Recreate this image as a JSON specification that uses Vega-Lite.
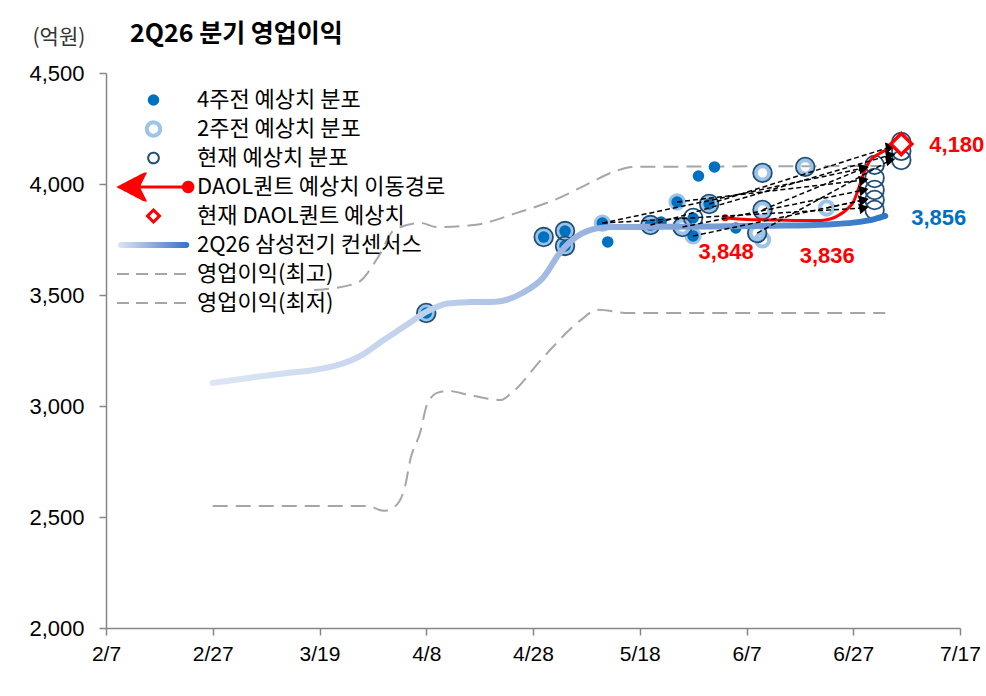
{
  "$schema": "https://vega.github.io/schema/vega-lite/v6.json",
  "width": 854,
  "height": 555,
  "autosize": {"type": "none"},
  "padding": {"left": 106, "top": 73, "right": 26, "bottom": 68},
  "background": "white",
  "title": {
    "text": "2Q26 분기 영업이익",
    "anchor": "start",
    "frame": "group",
    "dx": 24,
    "offset": -21,
    "font": "Noto Sans CJK KR",
    "fontSize": 25,
    "fontWeight": "bold",
    "color": "#000000"
  },
  "config": {
    "view": {"stroke": null}
  },
  "datasets": {
    "lines": [
      {"series": "영업이익(최고)", "date": "2026-03-18", "value": 3522},
      {"series": "영업이익(최고)", "date": "2026-03-26", "value": 3554},
      {"series": "영업이익(최고)", "date": "2026-03-30", "value": 3671},
      {"series": "영업이익(최고)", "date": "2026-04-02", "value": 3793},
      {"series": "영업이익(최고)", "date": "2026-04-07", "value": 3824},
      {"series": "영업이익(최고)", "date": "2026-04-10", "value": 3806},
      {"series": "영업이익(최고)", "date": "2026-04-17", "value": 3815},
      {"series": "영업이익(최고)", "date": "2026-04-25", "value": 3870},
      {"series": "영업이익(최고)", "date": "2026-05-02", "value": 3928},
      {"series": "영업이익(최고)", "date": "2026-05-09", "value": 4009},
      {"series": "영업이익(최고)", "date": "2026-05-13", "value": 4054},
      {"series": "영업이익(최고)", "date": "2026-05-17", "value": 4077},
      {"series": "영업이익(최고)", "date": "2026-07-03", "value": 4081},
      {"series": "영업이익(최저)", "date": "2026-02-27", "value": 2550},
      {"series": "영업이익(최저)", "date": "2026-03-28", "value": 2550},
      {"series": "영업이익(최저)", "date": "2026-03-31", "value": 2528},
      {"series": "영업이익(최저)", "date": "2026-04-02", "value": 2545},
      {"series": "영업이익(최저)", "date": "2026-04-04", "value": 2635},
      {"series": "영업이익(최저)", "date": "2026-04-05", "value": 2757},
      {"series": "영업이익(최저)", "date": "2026-04-07", "value": 2892},
      {"series": "영업이익(최저)", "date": "2026-04-08", "value": 2996},
      {"series": "영업이익(최저)", "date": "2026-04-10", "value": 3059},
      {"series": "영업이익(최저)", "date": "2026-04-12", "value": 3068},
      {"series": "영업이익(최저)", "date": "2026-04-16", "value": 3050},
      {"series": "영업이익(최저)", "date": "2026-04-22", "value": 3027},
      {"series": "영업이익(최저)", "date": "2026-04-24", "value": 3059},
      {"series": "영업이익(최저)", "date": "2026-04-30", "value": 3221},
      {"series": "영업이익(최저)", "date": "2026-05-07", "value": 3388},
      {"series": "영업이익(최저)", "date": "2026-05-10", "value": 3433},
      {"series": "영업이익(최저)", "date": "2026-05-16", "value": 3419},
      {"series": "영업이익(최저)", "date": "2026-07-03", "value": 3419},
      {"series": "2Q26 삼성전기 컨센서스", "date": "2026-02-27", "value": 3104},
      {"series": "2Q26 삼성전기 컨센서스", "date": "2026-03-07", "value": 3131},
      {"series": "2Q26 삼성전기 컨센서스", "date": "2026-03-13", "value": 3149},
      {"series": "2Q26 삼성전기 컨센서스", "date": "2026-03-18", "value": 3162},
      {"series": "2Q26 삼성전기 컨센서스", "date": "2026-03-27", "value": 3230},
      {"series": "2Q26 삼성전기 컨센서스", "date": "2026-03-31", "value": 3297},
      {"series": "2Q26 삼성전기 컨센서스", "date": "2026-04-04", "value": 3360},
      {"series": "2Q26 삼성전기 컨센서스", "date": "2026-04-08", "value": 3424},
      {"series": "2Q26 삼성전기 컨센서스", "date": "2026-04-12", "value": 3462},
      {"series": "2Q26 삼성전기 컨센서스", "date": "2026-04-16", "value": 3468},
      {"series": "2Q26 삼성전기 컨센서스", "date": "2026-04-21", "value": 3470},
      {"series": "2Q26 삼성전기 컨센서스", "date": "2026-04-26", "value": 3509},
      {"series": "2Q26 삼성전기 컨센서스", "date": "2026-04-30", "value": 3581},
      {"series": "2Q26 삼성전기 컨센서스", "date": "2026-05-03", "value": 3689},
      {"series": "2Q26 삼성전기 컨센서스", "date": "2026-05-07", "value": 3775},
      {"series": "2Q26 삼성전기 컨센서스", "date": "2026-05-10", "value": 3800},
      {"series": "2Q26 삼성전기 컨센서스", "date": "2026-05-13", "value": 3806},
      {"series": "2Q26 삼성전기 컨센서스", "date": "2026-05-20", "value": 3807},
      {"series": "2Q26 삼성전기 컨센서스", "date": "2026-06-01", "value": 3809},
      {"series": "2Q26 삼성전기 컨센서스", "date": "2026-06-12", "value": 3812},
      {"series": "2Q26 삼성전기 컨센서스", "date": "2026-06-22", "value": 3818},
      {"series": "2Q26 삼성전기 컨센서스", "date": "2026-06-27", "value": 3826},
      {"series": "2Q26 삼성전기 컨센서스", "date": "2026-07-01", "value": 3842},
      {"series": "2Q26 삼성전기 컨센서스", "date": "2026-07-03", "value": 3856},
      {"series": "DAOL퀀트 예상치 이동경로", "date": "2026-06-03", "value": 3848},
      {"series": "DAOL퀀트 예상치 이동경로", "date": "2026-06-07", "value": 3840},
      {"series": "DAOL퀀트 예상치 이동경로", "date": "2026-06-11", "value": 3838},
      {"series": "DAOL퀀트 예상치 이동경로", "date": "2026-06-16", "value": 3836},
      {"series": "DAOL퀀트 예상치 이동경로", "date": "2026-06-21", "value": 3836},
      {"series": "DAOL퀀트 예상치 이동경로", "date": "2026-06-24", "value": 3855},
      {"series": "DAOL퀀트 예상치 이동경로", "date": "2026-06-26", "value": 3890},
      {"series": "DAOL퀀트 예상치 이동경로", "date": "2026-06-27", "value": 3918},
      {"series": "DAOL퀀트 예상치 이동경로", "date": "2026-06-28", "value": 3980},
      {"series": "DAOL퀀트 예상치 이동경로", "date": "2026-06-29", "value": 4050},
      {"series": "DAOL퀀트 예상치 이동경로", "date": "2026-06-30", "value": 4100},
      {"series": "DAOL퀀트 예상치 이동경로", "date": "2026-07-02", "value": 4138},
      {"series": "DAOL퀀트 예상치 이동경로", "date": "2026-07-04", "value": 4162},
      {"series": "DAOL퀀트 예상치 이동경로", "date": "2026-07-06", "value": 4180}
    ],
    "points": [
      {"series": "4주전 예상치 분포", "date": "2026-04-08", "value": 3419},
      {"series": "4주전 예상치 분포", "date": "2026-04-30", "value": 3761},
      {"series": "4주전 예상치 분포", "date": "2026-05-04", "value": 3788},
      {"series": "4주전 예상치 분포", "date": "2026-05-04", "value": 3721},
      {"series": "4주전 예상치 분포", "date": "2026-05-11", "value": 3824},
      {"series": "4주전 예상치 분포", "date": "2026-05-12", "value": 3739},
      {"series": "4주전 예상치 분포", "date": "2026-05-20", "value": 3815},
      {"series": "4주전 예상치 분포", "date": "2026-05-22", "value": 3829},
      {"series": "4주전 예상치 분포", "date": "2026-05-25", "value": 3919},
      {"series": "4주전 예상치 분포", "date": "2026-05-28", "value": 3847},
      {"series": "4주전 예상치 분포", "date": "2026-05-28", "value": 3766},
      {"series": "4주전 예상치 분포", "date": "2026-05-31", "value": 3910},
      {"series": "4주전 예상치 분포", "date": "2026-05-29", "value": 4036},
      {"series": "4주전 예상치 분포", "date": "2026-06-01", "value": 4077},
      {"series": "4주전 예상치 분포", "date": "2026-06-05", "value": 3802},
      {"series": "2주전 예상치 분포", "date": "2026-04-08", "value": 3419},
      {"series": "2주전 예상치 분포", "date": "2026-04-30", "value": 3761},
      {"series": "2주전 예상치 분포", "date": "2026-05-04", "value": 3788},
      {"series": "2주전 예상치 분포", "date": "2026-05-04", "value": 3721},
      {"series": "2주전 예상치 분포", "date": "2026-05-11", "value": 3824},
      {"series": "2주전 예상치 분포", "date": "2026-05-20", "value": 3815},
      {"series": "2주전 예상치 분포", "date": "2026-05-25", "value": 3919},
      {"series": "2주전 예상치 분포", "date": "2026-05-26", "value": 3806},
      {"series": "2주전 예상치 분포", "date": "2026-05-28", "value": 3766},
      {"series": "2주전 예상치 분포", "date": "2026-05-31", "value": 3910},
      {"series": "2주전 예상치 분포", "date": "2026-06-10", "value": 4050},
      {"series": "2주전 예상치 분포", "date": "2026-06-10", "value": 3883},
      {"series": "2주전 예상치 분포", "date": "2026-06-09", "value": 3779},
      {"series": "2주전 예상치 분포", "date": "2026-06-10", "value": 3748},
      {"series": "2주전 예상치 분포", "date": "2026-06-18", "value": 4077},
      {"series": "2주전 예상치 분포", "date": "2026-06-22", "value": 3892},
      {"series": "현재 예상치 분포", "date": "2026-04-08", "value": 3419},
      {"series": "현재 예상치 분포", "date": "2026-04-30", "value": 3761},
      {"series": "현재 예상치 분포", "date": "2026-05-04", "value": 3788},
      {"series": "현재 예상치 분포", "date": "2026-05-04", "value": 3721},
      {"series": "현재 예상치 분포", "date": "2026-05-20", "value": 3815},
      {"series": "현재 예상치 분포", "date": "2026-05-26", "value": 3806},
      {"series": "현재 예상치 분포", "date": "2026-05-28", "value": 3847},
      {"series": "현재 예상치 분포", "date": "2026-05-31", "value": 3910},
      {"series": "현재 예상치 분포", "date": "2026-06-10", "value": 4050},
      {"series": "현재 예상치 분포", "date": "2026-06-10", "value": 3883},
      {"series": "현재 예상치 분포", "date": "2026-06-09", "value": 3779},
      {"series": "현재 예상치 분포", "date": "2026-06-18", "value": 4077},
      {"series": "현재 예상치 분포", "date": "2026-07-01", "value": 4086},
      {"series": "현재 예상치 분포", "date": "2026-07-01", "value": 4027},
      {"series": "현재 예상치 분포", "date": "2026-07-01", "value": 3973},
      {"series": "현재 예상치 분포", "date": "2026-07-01", "value": 3928},
      {"series": "현재 예상치 분포", "date": "2026-07-01", "value": 3883},
      {"series": "현재 예상치 분포", "date": "2026-07-06", "value": 4189},
      {"series": "현재 예상치 분포", "date": "2026-07-06", "value": 4149},
      {"series": "현재 예상치 분포", "date": "2026-07-06", "value": 4108}
    ]
  },
  "encoding": {
    "x": {
      "field": "date",
      "type": "temporal",
      "scale": {
        "type": "utc",
        "domain": [
          {"year": 2026, "month": 2, "date": 7, "utc": true},
          {"year": 2026, "month": 7, "date": 17, "utc": true}
        ]
      },
      "axis": {
        "title": null,
        "values": [
          {"year": 2026, "month": 2, "date": 7, "utc": true},
          {"year": 2026, "month": 2, "date": 27, "utc": true},
          {"year": 2026, "month": 3, "date": 19, "utc": true},
          {"year": 2026, "month": 4, "date": 8, "utc": true},
          {"year": 2026, "month": 4, "date": 28, "utc": true},
          {"year": 2026, "month": 5, "date": 18, "utc": true},
          {"year": 2026, "month": 6, "date": 7, "utc": true},
          {"year": 2026, "month": 6, "date": 27, "utc": true},
          {"year": 2026, "month": 7, "date": 17, "utc": true}
        ],
        "format": "%-m/%-d",
        "labelFont": "Liberation Sans Narrow, Arial Narrow, Liberation Sans",
        "labelFontSize": 21,
        "labelColor": "#000000",
        "labelPadding": 8,
        "labelOverlap": false,
        "labelFlush": false,
        "grid": false,
        "tickSize": 7,
        "tickColor": "#868686",
        "tickWidth": 1.5,
        "domainColor": "#868686",
        "domainWidth": 1.5
      }
    },
    "y": {
      "field": "value",
      "type": "quantitative",
      "scale": {"domain": [2000, 4500], "nice": false},
      "axis": {
        "title": "(억원)",
        "titleAngle": 0,
        "titleAlign": "left",
        "titleBaseline": "middle",
        "titleX": -74,
        "titleY": -36,
        "titleFont": "Noto Sans CJK KR",
        "titleFontSize": 21,
        "titleFontWeight": "normal",
        "titleColor": "#333333",
        "values": [2000, 2500, 3000, 3500, 4000, 4500],
        "labelExpr": "format(datum.value, ',')",
        "labelFont": "Liberation Sans Narrow, Arial Narrow, Liberation Sans",
        "labelFontSize": 22,
        "labelColor": "#000000",
        "labelPadding": 15,
        "grid": false,
        "tickSize": 7,
        "tickColor": "#868686",
        "tickWidth": 1.5,
        "domainColor": "#868686",
        "domainWidth": 1.5
      }
    }
  },
  "layer": [
    {
      "data": {"name": "lines"},
      "transform": [{"filter": "indexof(datum.series, '영업이익') === 0"}],
      "mark": {"type": "line", "color": "#A6A6A6", "strokeDash": [15, 8], "strokeWidth": 2, "interpolate": "monotone"},
      "encoding": {"detail": {"field": "series", "type": "nominal"}}
    },
    {
      "data": {"name": "points"},
      "transform": [{"filter": "datum.series === '2주전 예상치 분포'"}],
      "mark": {"type": "point", "filled": false, "color": "#9DC3E6", "size": 177, "strokeWidth": 4, "opacity": 1},
      "encoding": {}
    },
    {
      "data": {"name": "points"},
      "transform": [{"filter": "datum.series === '4주전 예상치 분포'"}],
      "mark": {"type": "point", "filled": true, "color": "#0070C0", "opacity": 1},
      "encoding": {
        "size": {
          "field": "series", "type": "nominal",
          "scale": {
            "type": "ordinal",
            "domain": ["4주전 예상치 분포", "2주전 예상치 분포", "현재 예상치 분포", "DAOL퀀트 예상치 이동경로", "현재 DAOL퀀트 예상치", "2Q26 삼성전기 컨센서스", "영업이익(최고)", "영업이익(최저)"],
            "range": [133, 177, 113, 5329, 144, 5329, 5329, 5329]
          },
          "legend": {
            "title": null,
            "orient": "none",
            "legendX": 9.5,
            "legendY": 12.5,
            "direction": "vertical",
            "columns": 1,
            "padding": 0,
            "labelFont": "Noto Sans CJK KR",
            "labelFontSize": 22,
            "labelColor": "#000000",
            "labelLimit": 500,
            "labelOffset": 5.5,
            "labelBaseline": "middle",
            "clipHeight": 29,
            "rowPadding": 0,
            "symbolOffset": 0,
            "encoding": {
              "symbols": {
                "shape": {"value": {"expr": "['circle','circle','circle','M-0.9,0L0.86,0M-0.93,0L-0.24,-0.36L-0.42,0L-0.24,0.36ZM0.82,0A0.13,0.13,0,1,0,1.08,0A0.13,0.13,0,1,0,0.82,0Z','diamond','M-0.9,-0.08L0.9,-0.08A0.08,0.08,0,0,1,0.9,0.08L-0.9,0.08A0.08,0.08,0,0,1,-0.9,-0.08Z','stroke','stroke'][datum.index]"}},
                "fill": {"value": {"expr": "datum.index === 5 ? {gradient: 'linear', x1: 0, y1: 0, x2: 1, y2: 0, stops: [{offset: 0, color: '#DCE6F4'}, {offset: 0.5, color: '#8EAADB'}, {offset: 1, color: '#2E75C8'}]} : ['#0070C0','#FFFFFF','#FFFFFF','#FF0000','#FFFFFF','#FFFFFF','transparent','transparent'][datum.index]"}},
                "stroke": {"value": {"expr": "['#0070C0','#9DC3E6','#1F4E79','#FF0000','#FF0000','transparent','#A6A6A6','#A6A6A6'][datum.index]"}},
                "strokeDash": {"value": {"expr": "datum.index >= 6 ? [12, 7] : [1, 0]"}},
                "opacity": {"value": 1}
              }
            }
          }
        },
        "strokeWidth": {
          "field": "series", "type": "nominal",
          "scale": {
            "type": "ordinal",
            "domain": ["4주전 예상치 분포", "2주전 예상치 분포", "현재 예상치 분포", "DAOL퀀트 예상치 이동경로", "현재 DAOL퀀트 예상치", "2Q26 삼성전기 컨센서스", "영업이익(최고)", "영업이익(최저)"],
            "range": [0, 4, 2, 3, 3, 0, 2, 2]
          }
        }
      }
    },
    {
      "data": {"name": "points"},
      "transform": [{"filter": "datum.series === '현재 예상치 분포'"}],
      "mark": {"type": "point", "filled": false, "color": "#1F4E79", "size": 346, "strokeWidth": 1.8, "opacity": 1},
      "encoding": {}
    },
    {
      "data": {"name": "lines"},
      "transform": [{"filter": "datum.series === '2Q26 삼성전기 컨센서스'"}],
      "mark": {
        "type": "line",
        "strokeWidth": 6,
        "strokeCap": "round",
        "interpolate": "monotone",
        "color": {
          "gradient": "linear", "x1": 0, "y1": 0, "x2": 1, "y2": 0,
          "stops": [
            {"offset": 0, "color": "#DCE6F4"},
            {"offset": 0.32, "color": "#BFD0EC"},
            {"offset": 0.63, "color": "#8EAADB"},
            {"offset": 0.8, "color": "#6B98D4"},
            {"offset": 1, "color": "#2E75C8"}
          ]
        }
      },
      "encoding": {}
    },
    {
      "data": {"name": "lines"},
      "transform": [{"filter": "datum.series === 'DAOL퀀트 예상치 이동경로'"}],
      "mark": {"type": "line", "color": "#FF0000", "strokeWidth": 3, "interpolate": "monotone"},
      "encoding": {}
    },
    {
      "data": {"values": [{"date": "2026-06-03", "value": 3848}]},
      "mark": {"type": "point", "filled": true, "color": "#FF0000", "size": 50, "opacity": 1},
      "encoding": {}
    },
    {
      "data": {
        "values": [
          {"date": "2026-05-11", "value": 3824, "date2": "2026-06-29", "value2": 3892},
          {"date": "2026-05-11", "value": 3824, "date2": "2026-06-29", "value2": 4072},
          {"date": "2026-05-20", "value": 3815, "date2": "2026-07-04", "value2": 4131},
          {"date": "2026-05-25", "value": 3919, "date2": "2026-06-29", "value2": 4018},
          {"date": "2026-05-26", "value": 3806, "date2": "2026-06-29", "value2": 3973},
          {"date": "2026-05-28", "value": 3766, "date2": "2026-06-29", "value2": 3928},
          {"date": "2026-05-31", "value": 3910, "date2": "2026-07-04", "value2": 4167},
          {"date": "2026-06-10", "value": 3883, "date2": "2026-06-29", "value2": 4072},
          {"date": "2026-06-09", "value": 3779, "date2": "2026-07-04", "value2": 4108},
          {"date": "2026-06-22", "value": 3892, "date2": "2026-06-29", "value2": 3928}
        ],
        "format": {"parse": {"date": "date", "date2": "date"}}
      },
      "layer": [
        {
          "mark": {"type": "rule", "color": "#000000", "strokeWidth": 1.5, "strokeDash": [5, 3]},
          "encoding": {
            "x2": {"field": "date2"},
            "y2": {"field": "value2"}
          }
        },
        {
          "mark": {"type": "point", "shape": "triangle-right", "filled": true, "color": "#000000", "size": 120, "angle": -12, "opacity": 1},
          "encoding": {
            "x": {"field": "date2", "type": "temporal"},
            "y": {"field": "value2", "type": "quantitative"}
          }
        }
      ]
    },
    {
      "data": {"values": [{"date": "2026-07-06", "value": 4180}]},
      "mark": {"type": "point", "shape": "diamond", "filled": false, "color": "#FF0000", "fill": "#FFFFFF", "strokeWidth": 3.5, "size": 440, "opacity": 1},
      "encoding": {}
    },
    {
      "data": {"values": [{"date": "2026-07-06", "value": 4180, "label": "4,180"}]},
      "mark": {"type": "text", "align": "left", "baseline": "middle", "dx": 28, "dy": 1, "font": "Liberation Sans Narrow, Arial Narrow, Liberation Sans", "fontSize": 22, "fontWeight": "bold", "color": "#FF0000"},
      "encoding": {"text": {"field": "label"}}
    },
    {
      "data": {"values": [{"date": "2026-07-03", "value": 3856, "label": "3,856"}]},
      "mark": {"type": "text", "align": "left", "baseline": "middle", "dx": 26, "dy": 2, "font": "Liberation Sans Narrow, Arial Narrow, Liberation Sans", "fontSize": 22, "fontWeight": "bold", "color": "#0070C0"},
      "encoding": {"text": {"field": "label"}}
    },
    {
      "data": {"values": [{"date": "2026-06-03", "value": 3848, "label": "3,848"}]},
      "mark": {"type": "text", "align": "center", "baseline": "middle", "dx": 1, "dy": 34, "font": "Liberation Sans Narrow, Arial Narrow, Liberation Sans", "fontSize": 22, "fontWeight": "bold", "color": "#FF0000"},
      "encoding": {"text": {"field": "label"}}
    },
    {
      "data": {"values": [{"date": "2026-06-21", "value": 3836, "label": "3,836"}]},
      "mark": {"type": "text", "align": "center", "baseline": "middle", "dx": 6, "dy": 36, "font": "Liberation Sans Narrow, Arial Narrow, Liberation Sans", "fontSize": 22, "fontWeight": "bold", "color": "#FF0000"},
      "encoding": {"text": {"field": "label"}}
    }
  ]
}
